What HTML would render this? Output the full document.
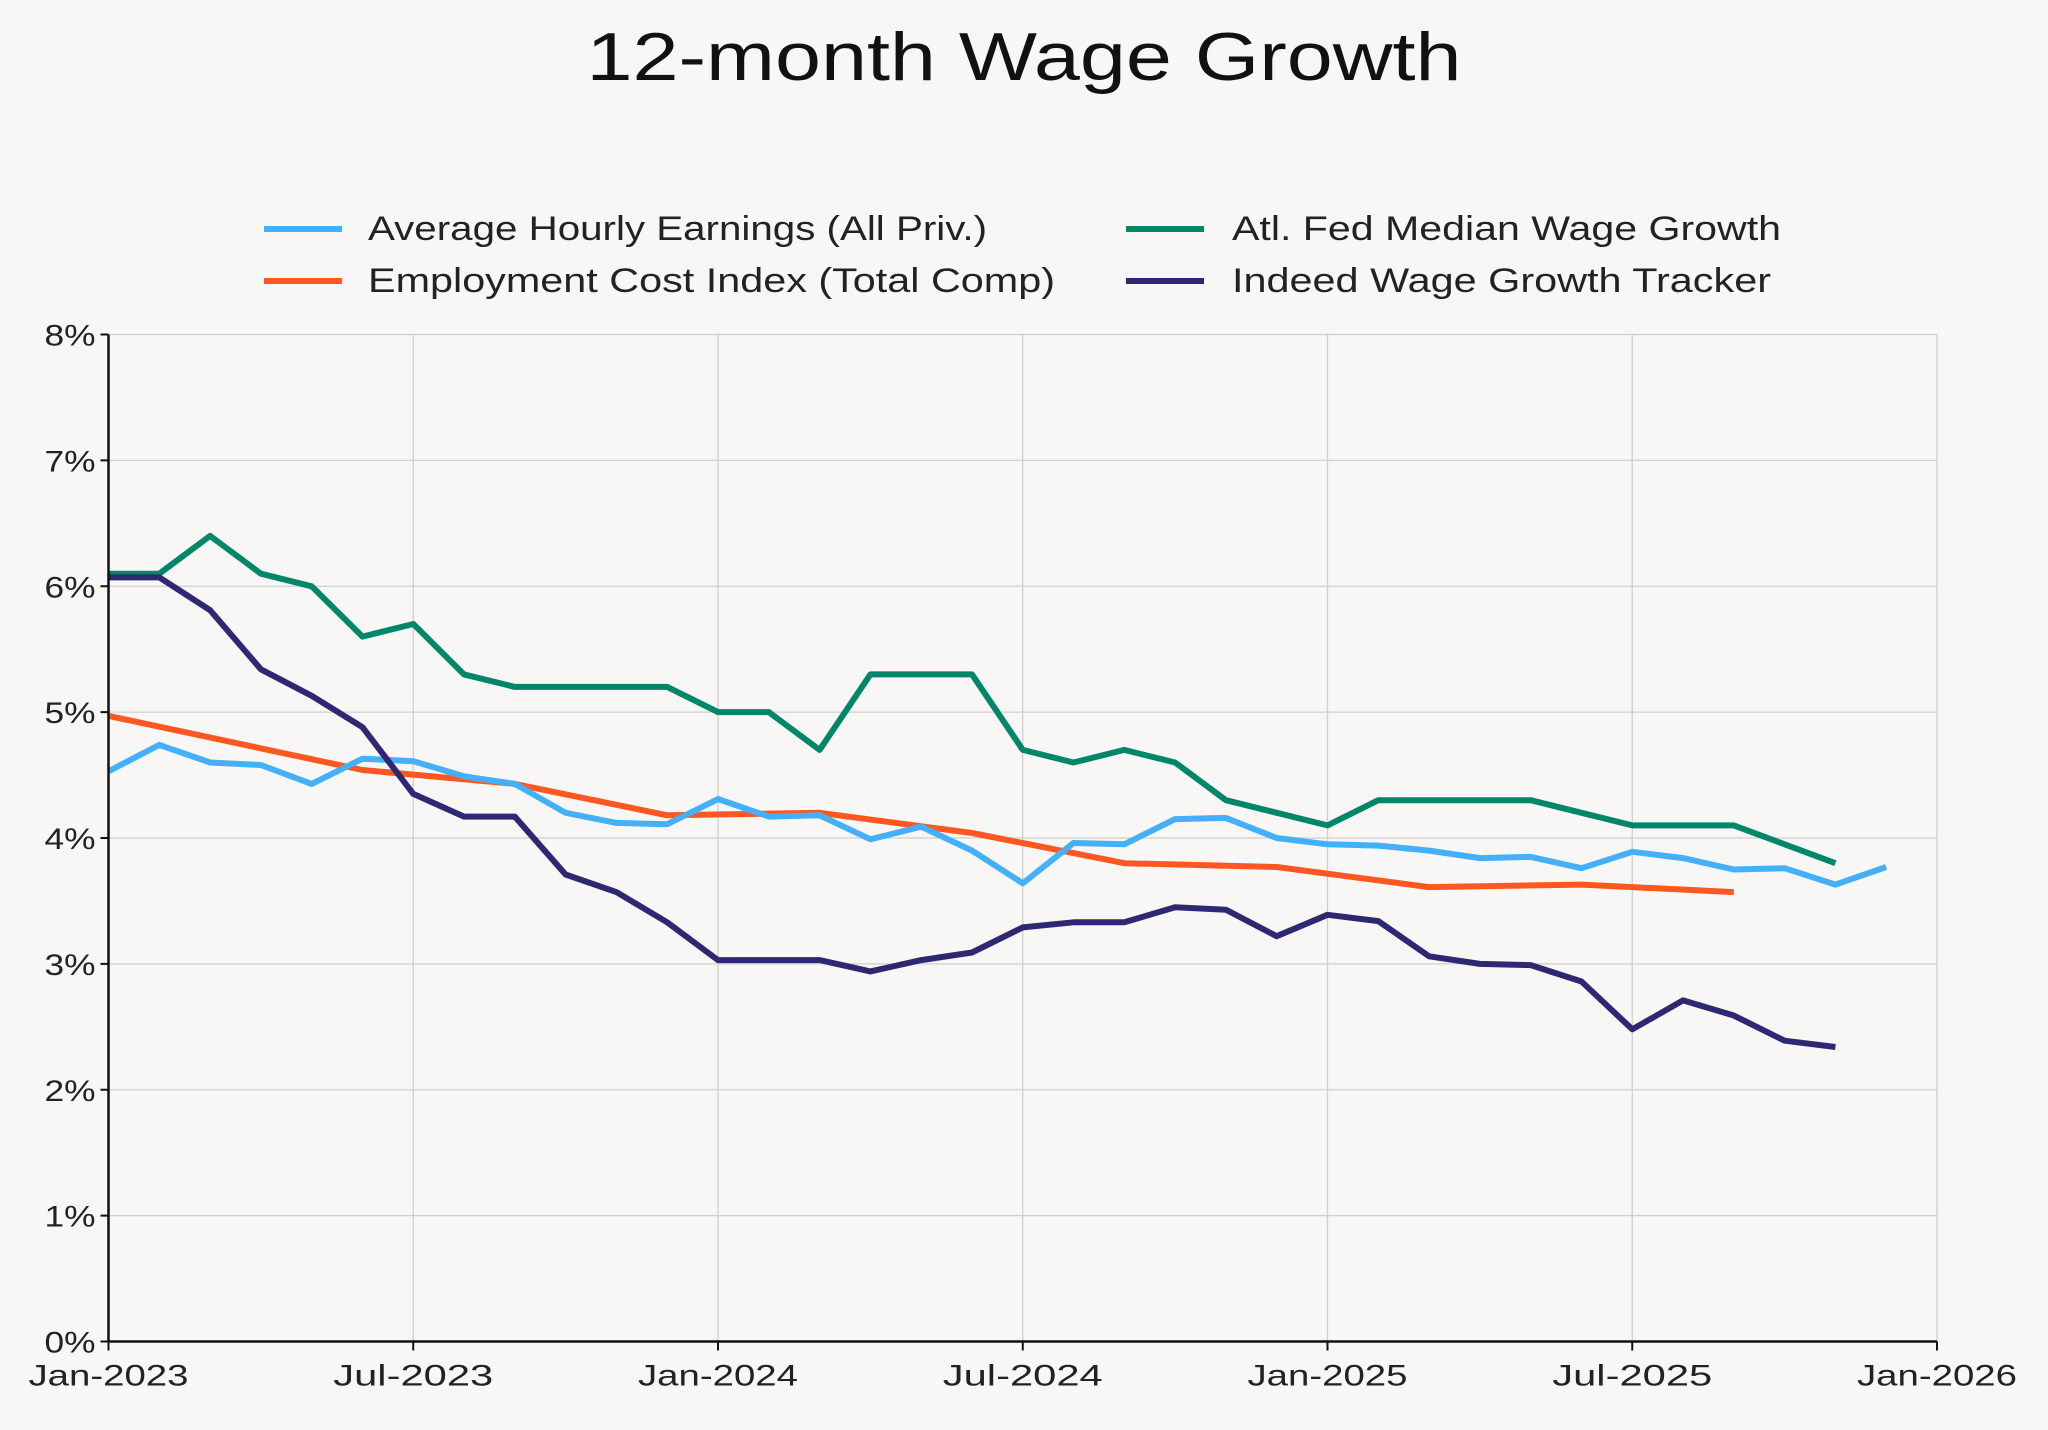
<!DOCTYPE html>
<html><head><meta charset="utf-8"><style>
html,body{margin:0;padding:0;background:#f8f7f5;}
svg{display:block;font-family:"Liberation Sans",sans-serif;}
</style></head><body>
<svg id="chart" width="2048" height="1430" viewBox="0 0 2048 1430">
<rect width="2048" height="1430" fill="#f8f7f5"/>
<text x="1024" y="80" text-anchor="middle" font-size="68" fill="#111" textLength="875" lengthAdjust="spacingAndGlyphs">12-month Wage Growth</text>
<g>
<g><line x1="264" y1="229" x2="342" y2="229" stroke="#43b0f9" stroke-width="6"/><text x="368" y="240" font-size="34" fill="#222" textLength="619" lengthAdjust="spacingAndGlyphs">Average Hourly Earnings (All Priv.)</text></g>
<g><line x1="264" y1="281" x2="342" y2="281" stroke="#ff5722" stroke-width="6"/><text x="368" y="292" font-size="34" fill="#222" textLength="687" lengthAdjust="spacingAndGlyphs">Employment Cost Index (Total Comp)</text></g>
<g><line x1="1126" y1="229" x2="1204" y2="229" stroke="#00876a" stroke-width="6"/><text x="1232" y="240" font-size="34" fill="#222" textLength="549" lengthAdjust="spacingAndGlyphs">Atl. Fed Median Wage Growth</text></g>
<g><line x1="1126" y1="281" x2="1204" y2="281" stroke="#2e2872" stroke-width="6"/><text x="1232" y="292" font-size="34" fill="#222" textLength="539" lengthAdjust="spacingAndGlyphs">Indeed Wage Growth Tracker</text></g>
</g>
<g id="grid"></g>
<g id="series"></g>
<g id="axes"></g>
</svg>
<script>
const yTicks=[0,1,2,3,4,5,6,7,8];
const xTickMonths=[0,6,12,18,24,30,36];
const xTickLabels=["Jan-2023","Jul-2023","Jan-2024","Jul-2024","Jan-2025","Jul-2025","Jan-2026"];
const aheValues=[4.53,4.74,4.6,4.58,4.43,4.63,4.61,4.49,4.43,4.2,4.12,4.11,4.31,4.17,4.18,3.99,4.09,3.9,3.64,3.96,3.95,4.15,4.16,4.0,3.95,3.94,3.9,3.84,3.85,3.76,3.89,3.84,3.75,3.76,3.63,3.77];
const eciMonths=[0,5,8,11,14,17,20,23,26,29,32];
const eciValues=[4.97,4.54,4.43,4.18,4.2,4.04,3.8,3.77,3.61,3.63,3.57];
const atlValues=[6.1,6.1,6.4,6.1,6.0,5.6,5.7,5.3,5.2,5.2,5.2,5.2,5.0,5.0,4.7,5.3,5.3,5.3,4.7,4.6,4.7,4.6,4.3,4.2,4.1,4.3,4.3,4.3,4.3,4.2,4.1,4.1,4.1,3.95,3.8];
const indeedValues=[6.07,6.07,5.81,5.34,5.13,4.88,4.35,4.17,4.17,3.71,3.57,3.33,3.03,3.03,3.03,2.94,3.03,3.09,3.29,3.33,3.33,3.45,3.43,3.22,3.39,3.34,3.06,3.0,2.99,2.86,2.48,2.71,2.59,2.39,2.34];

const X0=108.5,X1=1937,Y0=1341.5,Y8=334.5;
const xs=m=>X0+(X1-X0)*m/36;
const ys=v=>Y0-(Y0-Y8)*v/8;
const NS="http://www.w3.org/2000/svg";
function mk(tag,attrs,parent){const e=document.createElementNS(NS,tag);for(const k in attrs)e.setAttribute(k,attrs[k]);parent.appendChild(e);return e;}
const grid=document.getElementById('grid'),axes=document.getElementById('axes'),series=document.getElementById('series');
yTicks.forEach(t=>{
  const l=mk('line',{x1:X0,x2:X1,y1:ys(t),y2:ys(t),stroke:'#cfcfcf','stroke-width':1.3},grid);
  
  
  const tx=mk('text',{x:X0-13,y:ys(t)+11,'text-anchor':'end','font-size':30,fill:'#222',textLength:51,lengthAdjust:'spacingAndGlyphs'},axes);
  tx.textContent=t+'%';
  
  
  mk('line',{x1:X0-8,x2:X0,y1:ys(t),y2:ys(t),stroke:'#111','stroke-width':2},axes);
});
xTickMonths.forEach((m,i)=>{
  const l=mk('line',{x1:xs(m),x2:xs(m),y1:Y8,y2:Y0,stroke:'#cfcfcf','stroke-width':1.3},grid);
  
  
  mk('line',{x1:xs(m),x2:xs(m),y1:Y0,y2:Y0+9,stroke:'#111','stroke-width':2},axes);
  const tx=mk('text',{x:xs(m),y:Y0+44,'text-anchor':'middle','font-size':30,fill:'#222',textLength:160,lengthAdjust:'spacingAndGlyphs'},axes);
  tx.textContent=xTickLabels[i];
  
  
});
const ax1=mk('line',{x1:X0,x2:X0,y1:Y8,y2:Y0,stroke:'#111','stroke-width':2.5},axes);


const ax2=mk('line',{x1:X0,x2:X1,y1:Y0,y2:Y0,stroke:'#111','stroke-width':2.5},axes);


function draw(months,vals,color,name){
  const d=vals.map((v,i)=>(i?'L':'M')+xs(months[i]).toFixed(1)+' '+ys(v).toFixed(1)).join(' ');
  const p=mk('path',{d:d,fill:'none',stroke:color,'stroke-width':6,'stroke-linejoin':'round'},series);
  
  
}
const idx=n=>Array.from({length:n},(_,i)=>i);
draw(eciMonths,eciValues,'#ff5722','eci-line');
draw(idx(aheValues.length),aheValues,'#43b0f9','ahe-line');
draw(idx(atlValues.length),atlValues,'#00876a','atlfed-line');
draw(idx(indeedValues.length),indeedValues,'#2e2872','indeed-line');
</script>
</body></html>
